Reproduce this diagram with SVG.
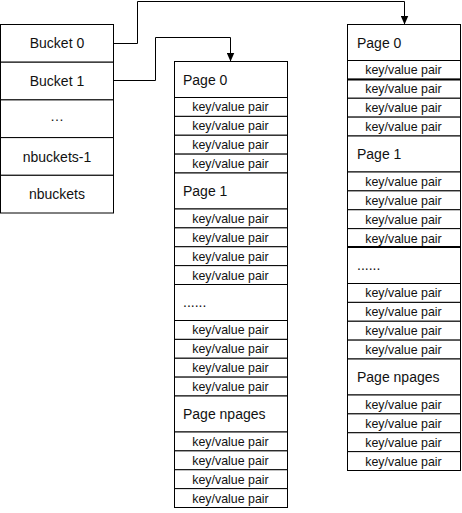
<svg xmlns="http://www.w3.org/2000/svg" width="462" height="513" viewBox="0 0 462 513">
<style>
.cell{fill:#fff;stroke:#000;stroke-width:1}
.hd{font-family:"Liberation Sans",Arial,sans-serif;font-size:14px;fill:#111}
.kv{font-family:"Liberation Sans",Arial,sans-serif;font-size:12.4px;fill:#111;text-anchor:middle}
.bk{font-family:"Liberation Sans",Arial,sans-serif;font-size:14px;fill:#111;text-anchor:middle}
.conn{fill:none;stroke:#000;stroke-width:1;marker-end:url(#arr)}
.thick{stroke:#000;stroke-width:2}
</style>
<defs>
<marker id="arr" markerUnits="userSpaceOnUse" markerWidth="9" markerHeight="8" viewBox="0 0 9 8" refX="9" refY="4" orient="auto">
<path d="M0,0 L9,4 L0,8 Z" fill="#000"/>
</marker>
</defs>
<rect width="462" height="513" fill="#fff"/>

<g id="buckets">
<g id="bucket0"><rect class="cell" x="0.5" y="24.5" width="113" height="37.7"/><text class="bk" x="57" y="48.4">Bucket 0</text></g>
<g id="bucket1"><rect class="cell" x="0.5" y="62.2" width="113" height="37.7"/><text class="bk" x="57" y="86.1">Bucket 1</text></g>
<g id="bucketdots"><rect class="cell" x="0.5" y="99.9" width="113" height="37.7"/><text class="bk" x="57" y="121">…</text></g>
<g id="bucketn1"><rect class="cell" x="0.5" y="137.6" width="113" height="37.7"/><text class="bk" x="57" y="161.5">nbuckets-1</text></g>
<g id="bucketn"><rect class="cell" x="0.5" y="175.3" width="113" height="37.7"/><text class="bk" x="57" y="199.2">nbuckets</text></g>
</g>

<g id="pages1">
<g id="p1-page0"><rect class="cell" x="174.5" y="61.5" width="113" height="36"/><text class="hd" x="183" y="84.5">Page 0</text></g>
<g id="p1-kv0"><rect class="cell" x="174.5" y="97.5" width="113" height="18.875"/><text class="kv" x="230.5" y="111.3">key/value pair</text></g>
<g id="p1-kv1"><rect class="cell" x="174.5" y="116.375" width="113" height="18.875"/><text class="kv" x="230.5" y="130.2">key/value pair</text></g>
<g id="p1-kv2"><rect class="cell" x="174.5" y="135.25" width="113" height="18.875"/><text class="kv" x="230.5" y="149.1">key/value pair</text></g>
<g id="p1-kv3"><rect class="cell" x="174.5" y="154.125" width="113" height="18.875"/><text class="kv" x="230.5" y="168">key/value pair</text></g>

<g id="p1-page1"><rect class="cell" x="174.5" y="173" width="113" height="36"/><text class="hd" x="183" y="196">Page 1</text></g>
<g id="p1-kv4"><rect class="cell" x="174.5" y="209" width="113" height="18.875"/><text class="kv" x="230.5" y="222.8">key/value pair</text></g>
<g id="p1-kv5"><rect class="cell" x="174.5" y="227.875" width="113" height="18.875"/><text class="kv" x="230.5" y="241.7">key/value pair</text></g>
<g id="p1-kv6"><rect class="cell" x="174.5" y="246.75" width="113" height="18.875"/><text class="kv" x="230.5" y="260.6">key/value pair</text></g>
<g id="p1-kv7"><rect class="cell" x="174.5" y="265.625" width="113" height="18.875"/><text class="kv" x="230.5" y="279.5">key/value pair</text></g>

<g id="p1-dots"><rect class="cell" x="174.5" y="284.5" width="113" height="36"/><text class="hd" x="183" y="307">......</text></g>
<g id="p1-kv8"><rect class="cell" x="174.5" y="320.5" width="113" height="18.875"/><text class="kv" x="230.5" y="334.3">key/value pair</text></g>
<g id="p1-kv9"><rect class="cell" x="174.5" y="339.375" width="113" height="18.875"/><text class="kv" x="230.5" y="353.2">key/value pair</text></g>
<g id="p1-kv10"><rect class="cell" x="174.5" y="358.25" width="113" height="18.875"/><text class="kv" x="230.5" y="372.1">key/value pair</text></g>
<g id="p1-kv11"><rect class="cell" x="174.5" y="377.125" width="113" height="18.875"/><text class="kv" x="230.5" y="391">key/value pair</text></g>

<g id="p1-pagen"><rect class="cell" x="174.5" y="396" width="113" height="36"/><text class="hd" x="183" y="419">Page npages</text></g>
<g id="p1-kv12"><rect class="cell" x="174.5" y="432" width="113" height="18.875"/><text class="kv" x="230.5" y="445.8">key/value pair</text></g>
<g id="p1-kv13"><rect class="cell" x="174.5" y="450.875" width="113" height="18.875"/><text class="kv" x="230.5" y="464.7">key/value pair</text></g>
<g id="p1-kv14"><rect class="cell" x="174.5" y="469.75" width="113" height="18.875"/><text class="kv" x="230.5" y="483.6">key/value pair</text></g>
<g id="p1-kv15"><rect class="cell" x="174.5" y="488.625" width="113" height="18.875"/><text class="kv" x="230.5" y="502.5">key/value pair</text></g>
</g>

<g id="pages0">
<g id="p0-page0"><rect class="cell" x="347.5" y="24.5" width="113" height="36"/><text class="hd" x="357" y="47.5">Page 0</text></g>
<g id="p0-kv0"><rect class="cell" x="347.5" y="60.5" width="113" height="18.875"/><text class="kv" x="403.5" y="74.3">key/value pair</text></g>
<g id="p0-kv1"><rect class="cell" x="347.5" y="79.375" width="113" height="18.875"/><text class="kv" x="403.5" y="93.2">key/value pair</text></g>
<g id="p0-kv2"><rect class="cell" x="347.5" y="98.25" width="113" height="18.875"/><text class="kv" x="403.5" y="112.1">key/value pair</text></g>
<g id="p0-kv3"><rect class="cell" x="347.5" y="117.125" width="113" height="18.875"/><text class="kv" x="403.5" y="131">key/value pair</text></g>

<g id="p0-page1"><rect class="cell" x="347.5" y="136" width="113" height="36"/><text class="hd" x="357" y="159">Page 1</text></g>
<g id="p0-kv4"><rect class="cell" x="347.5" y="172" width="113" height="18.875"/><text class="kv" x="403.5" y="185.8">key/value pair</text></g>
<g id="p0-kv5"><rect class="cell" x="347.5" y="190.875" width="113" height="18.875"/><text class="kv" x="403.5" y="204.7">key/value pair</text></g>
<g id="p0-kv6"><rect class="cell" x="347.5" y="209.75" width="113" height="18.875"/><text class="kv" x="403.5" y="223.6">key/value pair</text></g>
<g id="p0-kv7"><rect class="cell" x="347.5" y="228.625" width="113" height="18.875"/><text class="kv" x="403.5" y="242.5">key/value pair</text></g>

<g id="p0-dots"><rect class="cell" x="347.5" y="247.5" width="113" height="36"/><text class="hd" x="357" y="270">......</text></g>
<g id="p0-kv8"><rect class="cell" x="347.5" y="283.5" width="113" height="18.875"/><text class="kv" x="403.5" y="297.3">key/value pair</text></g>
<g id="p0-kv9"><rect class="cell" x="347.5" y="302.375" width="113" height="18.875"/><text class="kv" x="403.5" y="316.2">key/value pair</text></g>
<g id="p0-kv10"><rect class="cell" x="347.5" y="321.25" width="113" height="18.875"/><text class="kv" x="403.5" y="335.1">key/value pair</text></g>
<g id="p0-kv11"><rect class="cell" x="347.5" y="340.125" width="113" height="18.875"/><text class="kv" x="403.5" y="354">key/value pair</text></g>

<g id="p0-pagen"><rect class="cell" x="347.5" y="359" width="113" height="36"/><text class="hd" x="357" y="382">Page npages</text></g>
<g id="p0-kv12"><rect class="cell" x="347.5" y="395" width="113" height="18.875"/><text class="kv" x="403.5" y="408.8">key/value pair</text></g>
<g id="p0-kv13"><rect class="cell" x="347.5" y="413.875" width="113" height="18.875"/><text class="kv" x="403.5" y="427.7">key/value pair</text></g>
<g id="p0-kv14"><rect class="cell" x="347.5" y="432.75" width="113" height="18.875"/><text class="kv" x="403.5" y="446.6">key/value pair</text></g>
<g id="p0-kv15"><rect class="cell" x="347.5" y="451.625" width="113" height="18.875"/><text class="kv" x="403.5" y="465.5">key/value pair</text></g>
<line class="thick" x1="347.5" y1="79.5" x2="460.5" y2="79.5"/>
<line class="thick" x1="347.5" y1="247" x2="460.5" y2="247"/>
</g>

<g id="connectors">
<path class="conn" d="M113.5,43.5 H137.5 V1.5 H404.5 V24.5"/>
<path class="conn" d="M113.5,80.5 H155.5 V37.5 H230.5 V61.5"/>
</g>
</svg>
